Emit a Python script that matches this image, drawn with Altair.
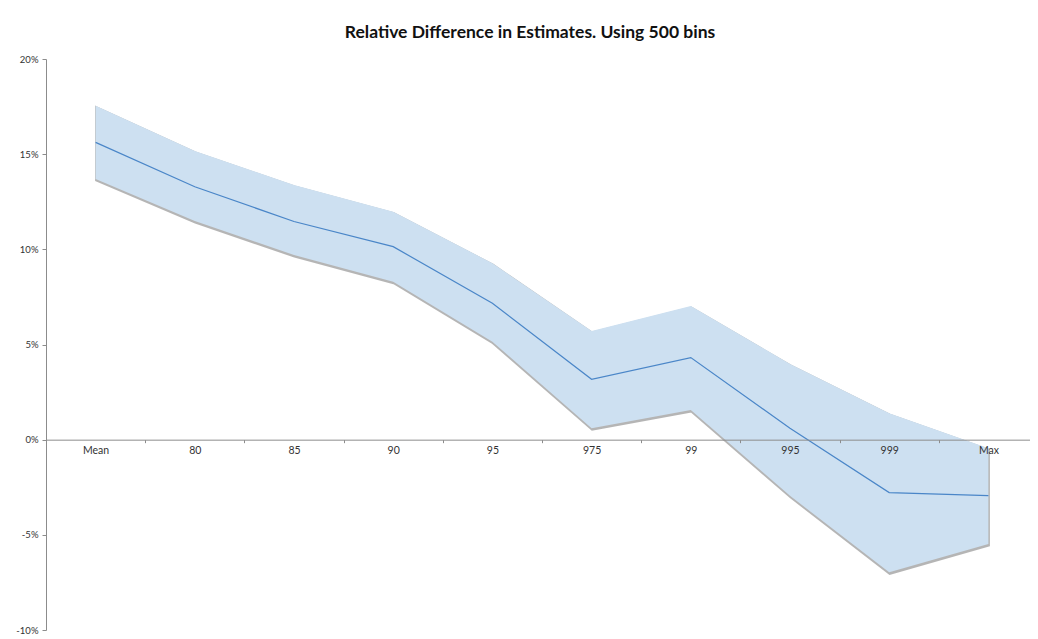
import altair as alt
import pandas as pd

categories = ["Mean", "80", "85", "90", "95", "975", "99", "995", "999", "Max"]
estimate = [15.62, 13.29, 11.46, 10.14, 7.17, 3.17, 4.31, 0.60, -2.78, -2.94]
upper = [17.55, 15.17, 13.38, 11.98, 9.27, 5.71, 7.02, 3.98, 1.39, -0.45]
lower = [13.70, 11.49, 9.70, 8.30, 5.15, 0.60, 1.56, -2.95, -6.97, -5.48]
y_ticks = [-10, -5, 0, 5, 10, 15, 20]

df = pd.DataFrame({"cat": categories, "est": estimate, "hi": upper, "lo": lower})

W, H = 992, 571
PAD_L, PAD_T = 38, 51
y0_from_bottom = H * 10 / 30

xscale = alt.Scale(type="band", domain=categories, paddingInner=0, paddingOuter=0)
yscale = alt.Scale(domain=[-10, 20], nice=False, zero=False)

x_axis = alt.Axis(
    title=None, labelAngle=0, tickBand="extent", offset=-y0_from_bottom,
    domainColor="#8c8c8c", tickColor="#8c8c8c", tickSize=3, labelPadding=3,
    labelFont="Lato", labelFontSize=10.5, labelColor="#333333", zindex=1,
)
y_axis = alt.Axis(
    title=None, values=y_ticks, labelExpr="datum.value + '%'", grid=False,
    domainColor="#8c8c8c", tickColor="#8c8c8c", tickSize=4, labelPadding=4,
    labelFont="Lato", labelFontSize=9.5, labelColor="#333333",
)

base = alt.Chart(df)

shadow = base.mark_area(
    color="#7a7a7a", opacity=0.55, stroke="#7a7a7a", strokeWidth=2,
    yOffset=1.5, y2Offset=1.5, xOffset=0.5, x2Offset=0.5,
).encode(
    x=alt.X("cat:N", scale=xscale, bandPosition=0.5, axis=x_axis, sort=categories),
    y=alt.Y("hi:Q", scale=yscale, axis=y_axis),
    y2="lo:Q",
)

band = base.mark_area(color="#cde0f1", opacity=1).encode(
    x=alt.X("cat:N", scale=xscale, bandPosition=0.5, sort=categories),
    y=alt.Y("hi:Q", scale=yscale),
    y2="lo:Q",
)

line = base.mark_line(color="#4a86c8", strokeWidth=1.2).encode(
    x=alt.X("cat:N", scale=xscale, bandPosition=0.5, sort=categories),
    y=alt.Y("est:Q", scale=yscale),
)

chart = alt.layer(shadow, band, line).properties(
    width=W, height=H,
    autosize="none",
    padding={"left": PAD_L, "top": PAD_T, "right": -8, "bottom": 9},
    title=alt.Title(
        "Relative Difference in Estimates. Using 500 bins",
        font="Lato", fontSize=17.5, fontWeight="bold", color="#111111",
        anchor="middle", dx=-12, offset=13,
    ),
).configure_view(stroke=None)

chart.save("out.html", embed_options={"renderer": "svg", "actions": False})
